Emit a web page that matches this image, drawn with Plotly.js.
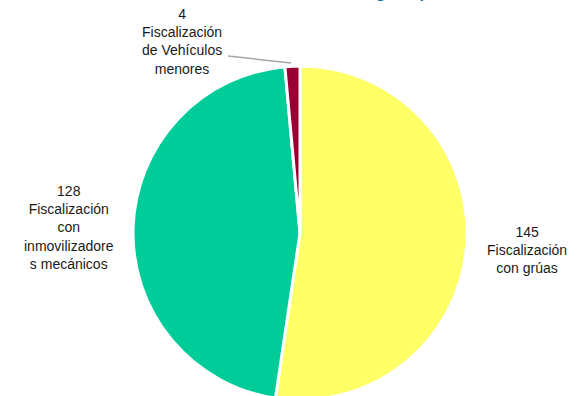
<!DOCTYPE html>
<html><head><meta charset="utf-8">
<script src="https://cdn.plot.ly/plotly-3.0.1.min.js"></script>
<style>html,body{margin:0;padding:0;overflow:hidden;width:578px;height:396px;background:#fff}
#c{position:absolute;left:0;top:-20px;width:578px;height:440px}</style>
</head><body><div id="c"></div>
<script>
const categories = ["Fiscalización con grúas", "Fiscalización con inmovilizadores mecánicos", "Fiscalización de Vehículos menores"];
const labelTexts = ["145<br>Fiscalización<br>con grúas", "128<br>Fiscalización<br>con<br>inmovilizadore<br>s mecánicos", "4<br>Fiscalización<br>de Vehículos<br>menores"];
const values = [145, 128, 4];
const colors = ["#FFFF66", "#00CC99", "#990033"];
const titleText = "Fiscalización según tipo";

const W = 578, H = 440, OFF = 20;
const px = x => x / W;
const py = y => 1 - (y + OFF) / H;
const cx = 300, cy = 233, r = 167;

const labelPos = [[527, 250], [69, 228], [182, 42]];

const annotations = labelTexts.map((t, i) => ({
  text: t, x: px(labelPos[i][0]), y: py(labelPos[i][1]), xref: 'paper', yref: 'paper',
  xanchor: 'center', yanchor: 'middle', showarrow: false, align: 'center',
  font: {family: 'Liberation Sans, Arial, sans-serif', size: 14, color: '#1a1a1a'}
}));
annotations.push({
  text: '<b>' + titleText + '</b>', x: px(346), y: py(3), xref: 'paper', yref: 'paper',
  xanchor: 'center', yanchor: 'bottom', showarrow: false,
  font: {family: 'Liberation Sans, Arial, sans-serif', size: 16, color: '#1F6FA8'}
});

const data = [{
  type: 'pie', values: values, labels: categories, sort: false, direction: 'clockwise',
  rotation: 0, textinfo: 'none', hoverinfo: 'label+value',
  marker: {colors: colors, line: {color: '#ffffff', width: 3}},
  domain: {x: [px(cx - r), px(cx + r)], y: [py(cy + r), py(cy - r)]},
  showlegend: false
}];

const layout = {
  width: W, height: H, margin: {l: 0, r: 0, t: 0, b: 0},
  paper_bgcolor: '#fff', plot_bgcolor: '#fff', showlegend: false,
  annotations: annotations,
  shapes: [{type: 'line', xref: 'paper', yref: 'paper', x0: px(228), y0: py(56), x1: px(291), y1: py(63),
    line: {color: '#A6A6A6', width: 1.5}}]
};
Plotly.newPlot('c', data, layout, {staticPlot: true, displayModeBar: false});
</script></body></html>
